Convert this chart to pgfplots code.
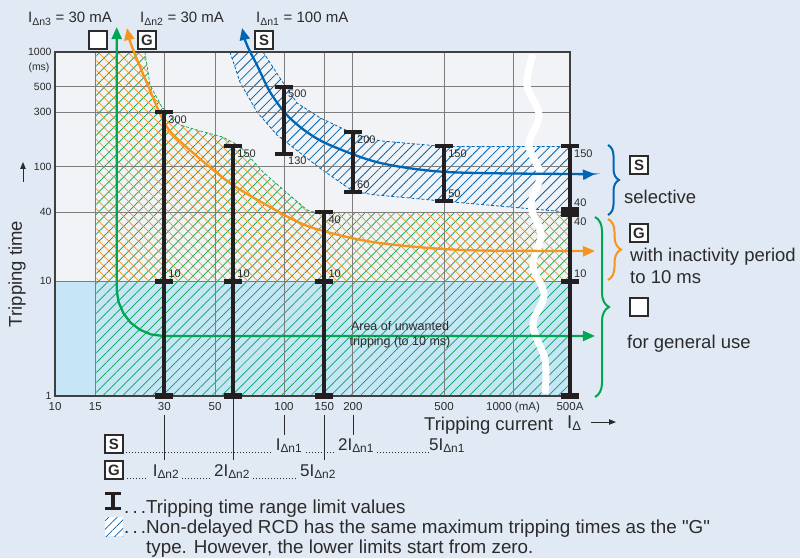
\documentclass[border=0pt]{standalone}
\usepackage{fontspec}
\setmainfont{Liberation Sans}
\usepackage{pgfplots}
\pgfplotsset{compat=1.18}
\usetikzlibrary{patterns.meta,arrows.meta,decorations.pathreplacing}
\definecolor{bgcol}{HTML}{E1E9F4}
\definecolor{plotbg}{HTML}{F1F3F6}
\definecolor{ltblue}{HTML}{C6E6F7}
\definecolor{cgreen}{HTML}{00A651}
\definecolor{corange}{HTML}{F7941D}
\definecolor{cblue}{HTML}{0066B3}
\definecolor{txt}{HTML}{2B2B2B}
\definecolor{barc}{HTML}{231F20}
\definecolor{gridc}{HTML}{7D7D7D}
\tikzset{
  tip/.style={arrows={Triangle[length=12pt,width=10pt]-Triangle[length=12pt,width=10pt]}},
  lbl/.style={font=\fontsize{11}{12}\selectfont, text=txt, inner sep=0pt},
  lb/.style={lbl, anchor=north west, xshift=4pt, yshift=-3.5pt},
  la/.style={lbl, anchor=south west, xshift=4pt, yshift=3.5pt},
  box/.style={draw=txt, line width=1.3pt, fill=white, minimum width=18pt, minimum height=18pt, inner sep=0pt, font=\bfseries\fontsize{15}{15}\selectfont, text=txt},
  big/.style={font=\fontsize{18.5}{22}\selectfont, text=txt, inner sep=0pt},
  leg/.style={font=\fontsize{18.8}{22}\selectfont, text=txt, inner sep=0pt},
  sub/.style={font=\fontsize{17}{20}\selectfont, text=txt, inner sep=0pt},
  dots/.style={txt, line width=0.9pt, dash pattern=on 1pt off 2pt},
}
\begin{document}
\begin{tikzpicture}
\fill[bgcol] (0pt,0pt) rectangle (800pt,558pt);

% ---------- fills ----------
\begin{axis}[at={(55pt,162pt)}, anchor=south west, scale only axis,
  width=515pt, height=344pt, xmode=log, ymode=log, xmin=10, xmax=1774, ymin=1, ymax=1000,
  clip=false, hide axis]
\addplot[fill=plotbg, draw=none] coordinates {(10,1)(10,1000)(1774,1000)(1774,1)} -- cycle;
\addplot[fill=ltblue, draw=none] coordinates {(10,1)(10,10)(1774,10)(1774,1)} -- cycle;
% general use (green) region: 0 .. max time
\addplot[draw=none, pattern={Lines[angle=45,distance=7pt,line width=0.7pt]}, pattern color=cgreen]
  coordinates {(15,1)(15,1000)(24.7,1000)(26,515)(29.3,331)(35.2,231)(43,205)(54.1,181)(64.2,151)(80.9,90)(103,59)(126,42)(136,40)(1774,40)(1774,1)} -- cycle;
% G type (orange) region: 10 ms .. max time
\addplot[draw=none, pattern={Lines[angle=-45,distance=7pt,line width=0.7pt]}, pattern color=corange]
  coordinates {(15,10)(15,1000)(24.7,1000)(26,515)(29.3,331)(35.2,231)(43,205)(54.1,181)(64.2,151)(80.9,90)(103,59)(126,42)(136,40)(1774,40)(1774,10)} -- cycle;
\addplot[cgreen, line width=0.7pt, dash pattern=on 3pt off 2pt]
  coordinates {(24.7,1000)(26,515)(29.3,331)(35.2,231)(43,205)(54.1,181)(64.2,151)(80.9,90)(103,59)(126,42)(136,40)};
\addplot[black!70, line width=0.7pt, dash pattern=on 3pt off 2pt] coordinates {(15,1)(15,1000)};
% S type (blue) band
\addplot[draw=none, pattern={Lines[angle=45,distance=7pt,line width=0.8pt]}, pattern color=cblue]
  coordinates {(58.1,1000)(81,1000)(96,593)(114,359)(144,266)(200,195)(262,168)(500,150)(1774,150)(1774,40)(500,50)(245,57)(200,61)(143.6,97)(121,126)(93.2,189)(76.2,300)(64.2,547)} -- cycle;
\addplot[cblue, line width=0.8pt, dash pattern=on 3pt off 2pt]
  coordinates {(81,1000)(96,593)(114,359)(144,266)(200,195)(262,168)(500,150)(1774,150)};
\addplot[cblue, line width=0.8pt, dash pattern=on 3pt off 2pt]
  coordinates {(58.1,1000)(64.2,547)(76.2,300)(93.2,189)(121,126)(143.6,97)(200,61)(245,57)(500,50)(1774,40)};
\end{axis}

% ---------- grid, curves, bars ----------
\begin{axis}[at={(55pt,162pt)}, anchor=south west, scale only axis,
  width=515pt, height=344pt, xmode=log, ymode=log, xmin=10, xmax=1774, ymin=1, ymax=1000,
  clip=false,
  axis line style={draw=black!75, line width=1.2pt},
  grid=major, major grid style={gridc, line width=0.9pt},
  xtick={10,15,30,50,100,150,200,500,1000,1774},
  xticklabels={10,15,30,50,100,150,200,500,1000 (mA),500A},
  ytick={1,10,40,100,300,500,1000},
  yticklabels={1,10,40,100,300,500,1000},
  minor xtick={}, minor ytick={}, major tick length=0pt,
  yticklabel style={font=\fontsize{10.5}{12}\selectfont, text=txt},
  xticklabel style={font=\fontsize{11.5}{13}\selectfont, text=txt, yshift=-3pt},
  /pgf/number format/assume math mode=true,
]
% axis break
\addplot[white, line width=7pt, smooth, tension=0.6] coordinates {(1222,950)(1151,515)(1299,282)(1175,154.5)(1313,84.6)(1198,46.3)(1326,25.4)(1222,13.9)(1366,7.6)(1222,4.16)(1380,2.06)(1380,1.05)};
% arrows
\addplot[cblue, line width=2.3pt, smooth, tip] coordinates {(65.6,1618)(68.9,1151)(76.2,770)(86.9,448)(103,282)(126,200)(159,154)(262,108)(515,89.8)(1774,86.3)(2280,86.3)};
\addplot[corange, line width=2.3pt, smooth, tip] coordinates {(20.6,1618)(21.7,1106)(25.2,537)(30.8,222)(40.1,132)(58.1,72)(86.9,44.5)(130,29.8)(245,22)(587,18.8)(1774,18.4)(2280,18.4)};
\addplot[cgreen, line width=2.3pt, tip] coordinates {(18.6,1650)(18.6,8.4)(18.95,6.6)(19.87,5.3)(21.36,4.37)(23.5,3.78)(26.3,3.44)(29.6,3.34)(2280,3.34)};
% tripping time range bars
\addplot[barc, line width=4pt] coordinates {(30,1)(30,300)};
\addplot[barc, line width=4pt] coordinates {(60,1)(60,150)};
\addplot[barc, line width=4pt] coordinates {(150,1)(150,40)};
\addplot[barc, line width=4pt] coordinates {(100,130)(100,500)};
\addplot[barc, line width=4pt] coordinates {(200,60)(200,200)};
\addplot[barc, line width=4pt] coordinates {(500,50)(500,150)};
\addplot[barc, line width=4pt] coordinates {(1774,1)(1774,150)};
\addplot[only marks, mark=-, mark size=9pt, mark options={barc, line width=4pt}]
  coordinates {(30,300)(60,150)(150,40)(100,500)(100,130)(200,200)(200,60)(500,150)(500,50)(1774,150)};
\addplot[only marks, mark=-, mark size=9pt, mark options={barc, line width=5.5pt}]
  coordinates {(30,10)(30,1)(60,10)(60,1)(150,10)(150,1)(1774,10)(1774,1)};
\addplot[only marks, mark=-, mark size=9pt, mark options={barc, line width=10pt}]
  coordinates {(1774,40)};
% bar value labels
\node[lb] at (axis cs:30,300) {300};
\node[la] at (axis cs:30,10) {10};
\node[lb] at (axis cs:60,150) {150};
\node[la] at (axis cs:60,10) {10};
\node[lb] at (axis cs:150,40) {40};
\node[la] at (axis cs:150,10) {10};
\node[lb] at (axis cs:100,500) {500};
\node[lb] at (axis cs:100,130) {130};
\node[lb] at (axis cs:200,200) {200};
\node[la] at (axis cs:200,60) {60};
\node[lb] at (axis cs:500,150) {150};
\node[la] at (axis cs:500,50) {50};
\node[lb] at (axis cs:1774,150) {150};
\node[la, yshift=2pt] at (axis cs:1774,40) {40};
\node[lb, yshift=-2pt] at (axis cs:1774,40) {40};
\node[la] at (axis cs:1774,10) {10};
% leader lines below the current axis
\draw[txt, line width=0.6pt] (axis cs:30,0.683) -- (axis cs:30,0.277);
\draw[txt, line width=0.6pt] (axis cs:60,0.97) -- (axis cs:60,0.277);
\draw[txt, line width=0.6pt] (axis cs:100,0.683) -- (axis cs:100,0.457);
\draw[txt, line width=0.6pt] (axis cs:150,0.683) -- (axis cs:150,0.277);
\draw[txt, line width=0.6pt] (axis cs:200,0.683) -- (axis cs:200,0.457);
\end{axis}

% ---------- texts around the chart ----------
\node[font=\fontsize{15}{18}\selectfont, text=txt, inner sep=0pt, anchor=base west] at (28pt,535pt) {I\textsubscript{Δn3} = 30 mA};
\node[font=\fontsize{15}{18}\selectfont, text=txt, inner sep=0pt, anchor=base west] at (140pt,535pt) {I\textsubscript{Δn2} = 30 mA};
\node[font=\fontsize{15}{18}\selectfont, text=txt, inner sep=0pt, anchor=base west] at (256pt,535pt) {I\textsubscript{Δn1} = 100 mA};
\node[box] at (98pt,518pt) {};
\node[box] at (147pt,518pt) {G};
\node[box] at (264pt,518pt) {S};
\node[font=\fontsize{10.5}{12}\selectfont, text=txt, inner sep=0pt] at (39pt,490pt) {(ms)};
\node[big, rotate=90] at (17pt,284pt) {Tripping time};
\draw[txt, line width=1pt, -{Triangle[length=7pt,width=5.5pt]}] (23pt,376pt) -- (23pt,396pt);
\node[big, anchor=base west] at (424pt,128pt) {Tripping current};
\node[big, anchor=base west] at (567pt,130pt) {I\textsubscript{Δ}};
\draw[txt, line width=1pt, -{Triangle[length=7pt,width=5.5pt]}] (591pt,136pt) -- (616pt,136pt);
\node[font=\fontsize{12.5}{15.5}\selectfont, text=txt, align=center, inner sep=0pt] at (400pt,223pt) {Area of unwanted\\tripping (to 10 ms)};

% right side: braces and type descriptions
\draw[cblue, line width=2pt, decorate, decoration={brace, amplitude=11pt}] (608pt,413pt) -- (608pt,343pt);
\draw[corange, line width=2pt, decorate, decoration={brace, amplitude=13pt}] (608pt,339pt) -- (608pt,278pt);
\draw[cgreen, line width=2pt, decorate, decoration={brace, amplitude=14pt}] (595pt,341pt) -- (595pt,161pt);
\node[box] at (639pt,393pt) {S};
\node[big, anchor=base west] at (624pt,355pt) {selective};
\node[box] at (639pt,325pt) {G};
\node[big, anchor=base west] at (630pt,297pt) {with inactivity period};
\node[big, anchor=base west] at (630pt,275pt) {to 10 ms};
\node[box] at (639pt,251pt) {};
\node[big, anchor=base west] at (627pt,210pt) {for general use};

% bottom: multiples of rated residual current
\node[box] at (114pt,114pt) {S};
\node[box] at (114pt,88pt) {G};
\draw[dots] (126pt,106pt) -- (271pt,106pt);
\draw[dots] (306pt,106pt) -- (334pt,106pt);
\draw[dots] (377pt,106pt) -- (429pt,106pt);
\node[sub, anchor=base] at (289pt,108pt) {I\textsubscript{Δn1}};
\node[sub, anchor=base] at (356pt,108pt) {2I\textsubscript{Δn1}};
\node[sub, anchor=base] at (447pt,108pt) {5I\textsubscript{Δn1}};
\draw[dots] (127pt,80pt) -- (148pt,80pt);
\draw[dots] (182pt,80pt) -- (211pt,80pt);
\draw[dots] (253pt,80pt) -- (296pt,80pt);
\node[sub, anchor=base] at (166pt,82pt) {I\textsubscript{Δn2}};
\node[sub, anchor=base] at (232pt,82pt) {2I\textsubscript{Δn2}};
\node[sub, anchor=base] at (318pt,82pt) {5I\textsubscript{Δn2}};

% legend
\draw[barc, line width=3.5pt] (113pt,64pt) -- (113pt,50pt);
\draw[barc, line width=3pt] (105pt,64.5pt) -- (121pt,64.5pt);
\draw[barc, line width=3pt] (105pt,49.5pt) -- (121pt,49.5pt);
\node[leg, anchor=base west] at (124pt,45pt) {.\,.\,.Tripping time range limit values};
\fill[white] (105pt,22pt) rectangle (123pt,41pt);
\fill[pattern={Lines[angle=45,distance=6pt,line width=0.8pt]}, pattern color=cblue] (105pt,22pt) rectangle (123pt,41pt);
\node[leg, anchor=base west] at (124pt,25pt) {.\,.\,.Non-delayed RCD has the same maximum tripping times as the \textquotedbl G\textquotedbl};
\node[leg, anchor=base west] at (146pt,5pt) {type. However, the lower limits start from zero.};
\end{tikzpicture}
\end{document}
